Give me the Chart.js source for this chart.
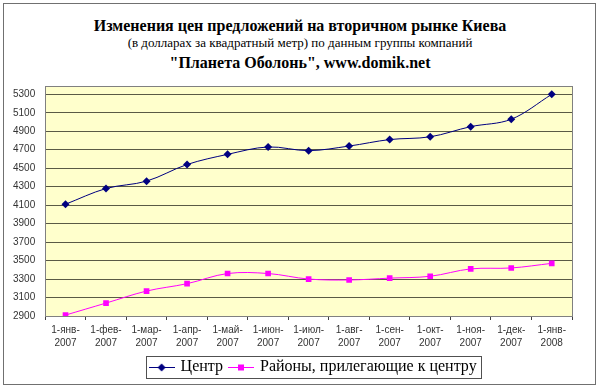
<!DOCTYPE html>
<html>
<head>
<meta charset="utf-8">
<script src="https://cdn.jsdelivr.net/npm/chart.js@4/dist/chart.umd.min.js"></script>
<style>
  body { margin: 0; background: #fff; }
  #wrap { position: relative; width: 600px; height: 389px; }
  #frame { position: absolute; left: 3px; top: 3px; width: 593px; height: 382px; box-sizing: border-box; border: 1px solid #707070; }
  .t { position: absolute; left: 0; width: 600px; text-align: center; font-family: "Liberation Serif", "Times New Roman", serif; color: #000; white-space: nowrap; }
  #t1 { top: 16px; font-size: 16px; line-height: 19px; font-weight: bold; }
  #t2 { top: 35px; font-size: 13px; line-height: 15px; }
  #t3 { top: 53px; font-size: 16px; line-height: 19px; font-weight: bold; }
  canvas { position: absolute; left: 0; top: 0; }
</style>
</head>
<body>
<div id="wrap">
  <div id="frame"></div>
  <div class="t" id="t1">Изменения цен предложений на вторичном рынке Киева</div>
  <div class="t" id="t2">(в долларах за квадратный метр) по данным группы компаний</div>
  <div class="t" id="t3">"Планета Оболонь", www.domik.net</div>
  <canvas id="chart" width="600" height="389"></canvas>
</div>
<script>
const categories = [
  ['1-янв-', '2007'], ['1-фев-', '2007'], ['1-мар-', '2007'], ['1-апр-', '2007'],
  ['1-май-', '2007'], ['1-июн-', '2007'], ['1-июл-', '2007'], ['1-авг-', '2007'],
  ['1-сен-', '2007'], ['1-окт-', '2007'], ['1-ноя-', '2007'], ['1-дек-', '2007'],
  ['1-янв-', '2008']
];
const centr = [4110, 4280, 4360, 4540, 4650, 4730, 4690, 4740, 4810, 4840, 4950, 5030, 5300];
const raiony = [2910, 3040, 3170, 3250, 3360, 3360, 3300, 3290, 3310, 3330, 3410, 3420, 3470];
const yTicks = [2900, 3100, 3300, 3500, 3700, 3900, 4100, 4300, 4500, 4700, 4900, 5100, 5300];

// legend sample: line with marker in the middle
function sample(color, style) {
  const c = document.createElement('canvas');
  c.width = 26; c.height = 10;
  const g = c.getContext('2d');
  g.strokeStyle = color; g.lineWidth = 1;
  g.beginPath(); g.moveTo(0, 5.5); g.lineTo(26, 5.5); g.stroke();
  g.fillStyle = color;
  g.beginPath();
  if (style === 'diamond') {
    g.moveTo(13, 1.5); g.lineTo(17, 5.5); g.lineTo(13, 9.5); g.lineTo(9, 5.5);
  } else {
    g.rect(10, 2.5, 6, 6);
  }
  g.fill();
  return c;
}
const samples = [sample('#000080', 'diamond'), sample('#FF00FF', 'square')];

const plotBg = {
  id: 'plotBg',
  afterLayout(chart) {
    // legend sits a little right of the plot centre in the original
    chart.legend.left += 5;
    chart.legend.right += 5;
  },
  beforeDraw(chart) {
    const a = chart.chartArea, ctx = chart.ctx;
    ctx.save();
    ctx.fillStyle = '#FFFFCC';
    ctx.fillRect(a.left, a.top, a.right - a.left, a.bottom - a.top);
    ctx.restore();
  },
  afterDraw(chart) {
    const a = chart.chartArea, ctx = chart.ctx;
    ctx.save();
    ctx.strokeStyle = '#808080';
    ctx.lineWidth = 1;
    ctx.strokeRect(Math.round(a.left) + 0.5, Math.round(a.top) + 0.5, Math.round(a.right - a.left), Math.round(a.bottom - a.top));
    // box round the legend
    const hb = chart.legend.legendHitBoxes;
    if (hb && hb.length) {
      const l = Math.min(...hb.map(h => h.left)) - 5;
      const r = Math.max(...hb.map(h => h.left + h.width)) + 4;
      const t = Math.min(...hb.map(h => h.top)) - 3;
      const b = Math.max(...hb.map(h => h.top + h.height)) + 3;
      ctx.strokeStyle = '#505050';
      ctx.strokeRect(Math.round(l) + 0.5, Math.round(t) + 0.5, Math.round(r - l), Math.round(b - t));
    }
    ctx.restore();
  }
};

new Chart(document.getElementById('chart').getContext('2d'), {
  type: 'line',
  data: {
    labels: categories,
    datasets: [{
      label: 'Центр',
      data: centr,
      borderColor: '#000080',
      backgroundColor: '#000080',
      borderWidth: 1,
      pointStyle: 'rectRot',
      pointRadius: 4,
      pointBorderWidth: 0,
      tension: 0.35
    }, {
      label: 'Районы, прилегающие к центру',
      data: raiony,
      borderColor: '#FF00FF',
      backgroundColor: '#FF00FF',
      borderWidth: 1,
      pointStyle: 'rect',
      pointRadius: 4,
      pointBorderWidth: 0,
      tension: 0.35
    }]
  },
  options: {
    responsive: false,
    animation: false,
    layout: { padding: { top: 86, left: 3, right: 28, bottom: 4 } },
    plugins: {
      title: { display: false },
      tooltip: { enabled: false },
      legend: {
        position: 'bottom',
        fullSize: false,
        labels: {
          usePointStyle: true,
          pointStyleWidth: 22,
          padding: 7,
          color: '#000',
          font: { family: '"Liberation Serif", "Times New Roman", serif', size: 16 },
          generateLabels(chart) {
            return chart.data.datasets.map((ds, i) => ({
              text: ds.label,
              pointStyle: samples[i],
              fillStyle: ds.borderColor,
              strokeStyle: ds.borderColor,
              lineWidth: 0,
              hidden: false,
              datasetIndex: i,
              fontColor: '#000'
            }));
          }
        }
      }
    },
    scales: {
      x: {
        offset: true,
        afterFit(scale) { scale.height -= 2; },
        grid: { offset: true, drawOnChartArea: false, drawTicks: true, tickLength: 4, color: '#404040' },
        border: { color: '#404040' },
        ticks: {
          autoSkip: false, maxRotation: 0, padding: 4, color: '#333',
          font: { family: '"Liberation Sans", Arial, sans-serif', size: 10, lineHeight: 1.3 }
        }
      },
      y: {
        min: 2900,
        max: 5390,
        afterBuildTicks(scale) { scale.ticks = yTicks.map(v => ({ value: v })); },
        grid: { drawTicks: false, color: '#5a5a45', lineWidth: 1 },
        border: { color: '#404040' },
        ticks: {
          padding: 10, color: '#333',
          callback: v => String(v),
          font: { family: '"Liberation Sans", Arial, sans-serif', size: 10 }
        }
      }
    }
  },
  plugins: [plotBg]
});
</script>
</body>
</html>
